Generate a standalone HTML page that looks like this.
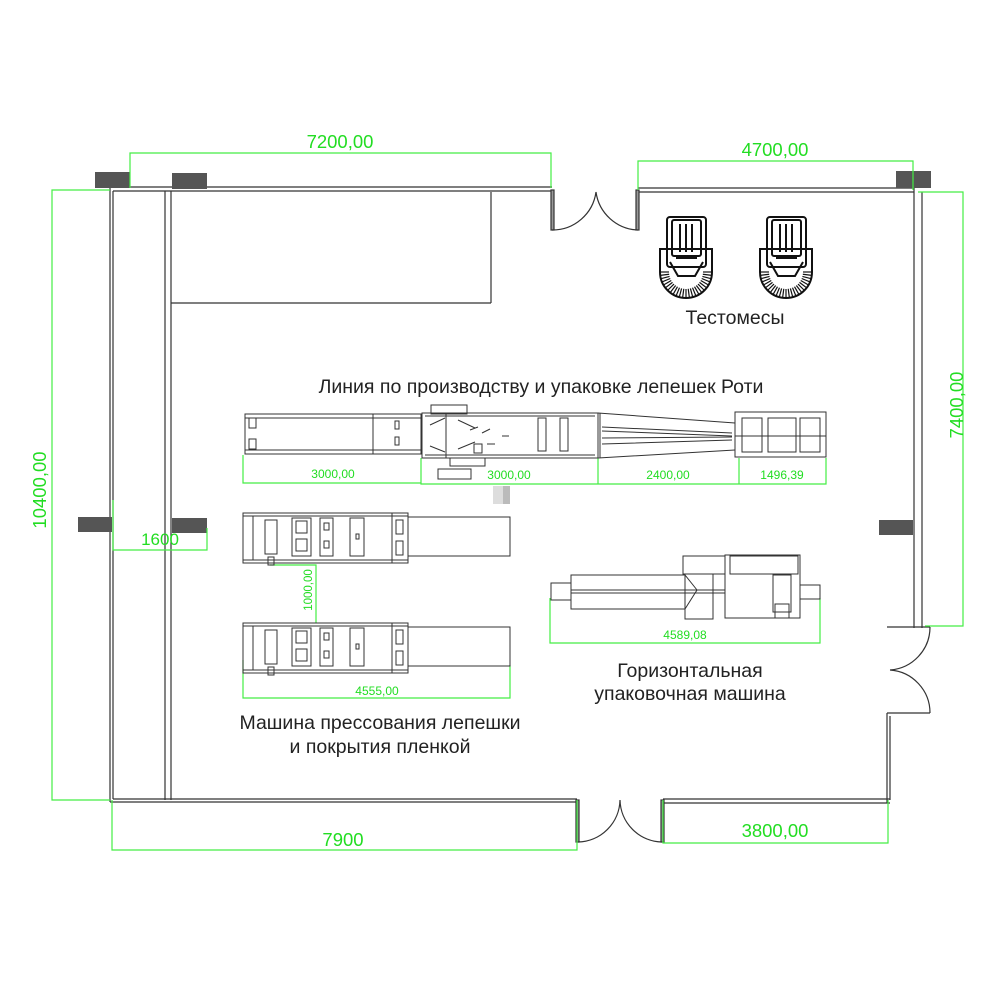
<!DOCTYPE html>
<html><head><meta charset="utf-8"><style>
html,body{margin:0;padding:0;background:#fff}
svg{display:block}
.t{font-family:"Liberation Sans","DejaVu Sans",sans-serif;fill:#222;font-size:19.5px;text-anchor:middle}
.g{font-family:"Liberation Sans",sans-serif;fill:#22dd22;text-anchor:middle}
</style></head><body>
<svg id="s" width="1000" height="1000" viewBox="0 0 1000 1000" xmlns="http://www.w3.org/2000/svg">
<g fill="none" stroke="#333" stroke-width="1.2">
<path d="M110,187 H552 M113,191 H552"/>
<path d="M638,188 H914 M638,192 H914"/>
<path d="M110,187 V802 M113,191 V799"/>
<path d="M165,191 V800 M171,191 V800"/>
<path d="M914,188 V628 M922,192 V628"/>
<path d="M110,802 H577 M113,799 H577"/>
<path d="M663,799 H890 M663,803 H890"/>
<path d="M887,713 V803 M890,716 V800"/>
<path d="M887,627 H930 M887,713 H930"/>
<path d="M171,303 H491 M491,192 V303"/>
<rect x="551" y="190" width="3" height="40" fill="#999"/>
<rect x="636" y="190" width="3" height="40" fill="#999"/>
<path d="M552,230 A44,44 0 0 0 596,192 M638,230 A44,44 0 0 1 596,192"/>
<rect x="576" y="800" width="3" height="42" fill="#999"/>
<rect x="661" y="800" width="3" height="42" fill="#999"/>
<path d="M578,842 A43,43 0 0 0 620,800 M662,842 A43,43 0 0 1 620,800"/>
<path d="M930,627 A43,43 0 0 1 890,670 M930,713 A43,43 0 0 0 890,670"/>
</g>
<g fill="#555">
<rect x="95" y="172" width="35" height="16"/>
<rect x="172" y="173" width="35" height="16"/>
<rect x="896" y="171" width="35" height="17"/>
<rect x="78" y="517" width="34" height="15"/>
<rect x="172" y="518" width="35" height="15"/>
<rect x="879" y="520" width="34" height="15"/>
</g>
<g fill="none" stroke="#44ee44" stroke-width="1.2">
<path d="M130,188 V153 H551 V188"/>
<path d="M638,190 V161 H913 V190"/>
<path d="M110,190 H52 V800 H110"/>
<path d="M918,192 H963 V626 H925"/>
<path d="M112,800 V850 H577 V800"/>
<path d="M663,800 V843 H888 V800"/>
<path d="M113,500 V550 H207 V528"/>
<path d="M243,455 V483 H421 M421,458 V484 H826 V458 M598,458 V484 M739,458 V484"/>
<path d="M270,565 H316 V623"/>
<path d="M243,660 V698 H510 V665"/>
<path d="M550,598 V643 H820 V598"/>
</g>
<g class="g">
<text x="340" y="148" font-size="18.5">7200,00</text>
<text x="775" y="156" font-size="18.5">4700,00</text>
<text x="343" y="846" font-size="18.5">7900</text>
<text x="775" y="837" font-size="18.5">3800,00</text>
<text x="160" y="545" font-size="17">1600</text>
<text transform="translate(46,490) rotate(-90)" font-size="18.5">10400,00</text>
<text transform="translate(963,405) rotate(-90)" font-size="18.5">7400,00</text>
<text x="333" y="478" font-size="12">3000,00</text>
<text x="509" y="479" font-size="12">3000,00</text>
<text x="668" y="479" font-size="12">2400,00</text>
<text x="782" y="479" font-size="12">1496,39</text>
<text transform="translate(312,590) rotate(-90)" font-size="11.5">1000,00</text>
<text x="377" y="695" font-size="12">4555,00</text>
<text x="685" y="639" font-size="12">4589,08</text>
</g>
<g fill="none" stroke="#333" stroke-width="1">
<rect x="245" y="414" width="176" height="40"/>
<path d="M245,418 H421 M245,450 H421 M373,414 V454"/>
<rect x="249" y="418" width="7" height="10"/><rect x="249" y="439" width="7" height="10"/>
<rect x="395" y="421" width="4" height="8"/><rect x="395" y="437" width="4" height="8"/>
<rect x="422" y="413" width="176" height="45"/>
<path d="M425,416 H595 M425,455 H595 M446,413 V458"/>
<rect x="431" y="405" width="36" height="9"/>
<path d="M430,425 L445,418 M430,446 L445,452 M458,420 L475,428 M458,449 L475,442 M470,430 L478,427 M482,433 L490,429 M487,444 H495 M502,436 H509"/>
<rect x="538" y="418" width="8" height="33"/><rect x="560" y="418" width="8" height="33"/>
<rect x="474" y="444" width="8" height="9"/>
<rect x="450" y="458" width="35" height="8"/>
<rect x="438" y="469" width="33" height="10"/>
<path d="M598,413 L735,423 M598,458 L735,450 M600,413 V458 M602,427 L732,433 M602,431 L732,436 M602,438 L732,437 M602,444 L732,440"/>
<rect x="735" y="412" width="91" height="45"/>
<path d="M735,436 H826"/>
<rect x="742" y="418" width="20" height="34"/><rect x="768" y="418" width="28" height="34"/><rect x="800" y="418" width="20" height="34"/>
</g>
<rect x="493" y="486" width="12" height="18" fill="#ddd"/><rect x="503" y="486" width="7" height="18" fill="#bbb"/>
<g fill="none" stroke="#333" stroke-width="1">
<g id="pm">
<rect x="243" y="513" width="165" height="50"/>
<path d="M243,516 H408 M243,560 H408 M253,516 V560 M392,513 V563"/>
<rect x="265" y="520" width="12" height="34"/>
<rect x="292" y="518" width="19" height="38"/><rect x="296" y="521" width="11" height="12"/><rect x="296" y="539" width="11" height="12"/>
<rect x="320" y="518" width="13" height="38"/><rect x="324" y="523" width="5" height="7"/><rect x="324" y="541" width="5" height="7"/>
<rect x="350" y="518" width="14" height="38"/><rect x="356" y="534" width="3" height="5"/>
<rect x="396" y="520" width="7" height="14"/><rect x="396" y="541" width="7" height="14"/>
<rect x="408" y="517" width="102" height="39"/>
<rect x="268" y="557" width="6" height="8"/>
</g>
<use href="#pm" y="110"/>
</g>
<g fill="none" stroke="#333" stroke-width="1">
<rect x="551" y="583" width="20" height="17"/>
<path d="M571,575 H685 L697,590 L685,609 H571 Z"/>
<path d="M571,590 H725 M571,593 H725"/>
<rect x="683" y="556" width="42" height="18"/>
<rect x="685" y="574" width="28" height="45"/>
<rect x="725" y="555" width="75" height="63"/>
<rect x="730" y="556" width="68" height="18"/>
<rect x="773" y="575" width="18" height="37"/>
<rect x="775" y="604" width="14" height="14"/>
<rect x="800" y="585" width="20" height="14"/>
</g>
<g id="mx" fill="none" stroke="#111" stroke-width="2">
<rect x="667" y="217" width="39" height="50" rx="3"/>
<rect x="672" y="220" width="29" height="36" rx="2"/>
<path d="M680,224 V252 M686,224 V252 M692,224 V252 M676,258 H697"/>
<path d="M660,249 V272 A26,26 0 0 0 712,272 V249 Z" stroke-width="2"/>
<path d="M670,262 L678,276 H695 L703,262" />
<g id="rays"></g>
</g>
<use href="#mx" x="100"/>
<text class="t" x="735" y="324">Тестомесы</text>
<text class="t" x="541" y="393">Линия по производству и упаковке лепешек Роти</text>
<text class="t" x="690" y="677">Горизонтальная</text>
<text class="t" x="690" y="700">упаковочная машина</text>
<text class="t" x="380" y="729">Машина прессования лепешки</text>
<text class="t" x="380" y="753">и покрытия пленкой</text>
</svg>
<script>
var g=document.getElementById('rays'),s='';
for(var i=0;i<=24;i++){var a=Math.PI*i/24,c=Math.cos(a),sn=Math.sin(a);
s+='<line x1="'+(686+17*c)+'" y1="'+(272+17*sn)+'" x2="'+(686+26*c)+'" y2="'+(272+26*sn)+'" stroke-width="1.2"/>';}
g.innerHTML=s;
</script>
</body></html>
